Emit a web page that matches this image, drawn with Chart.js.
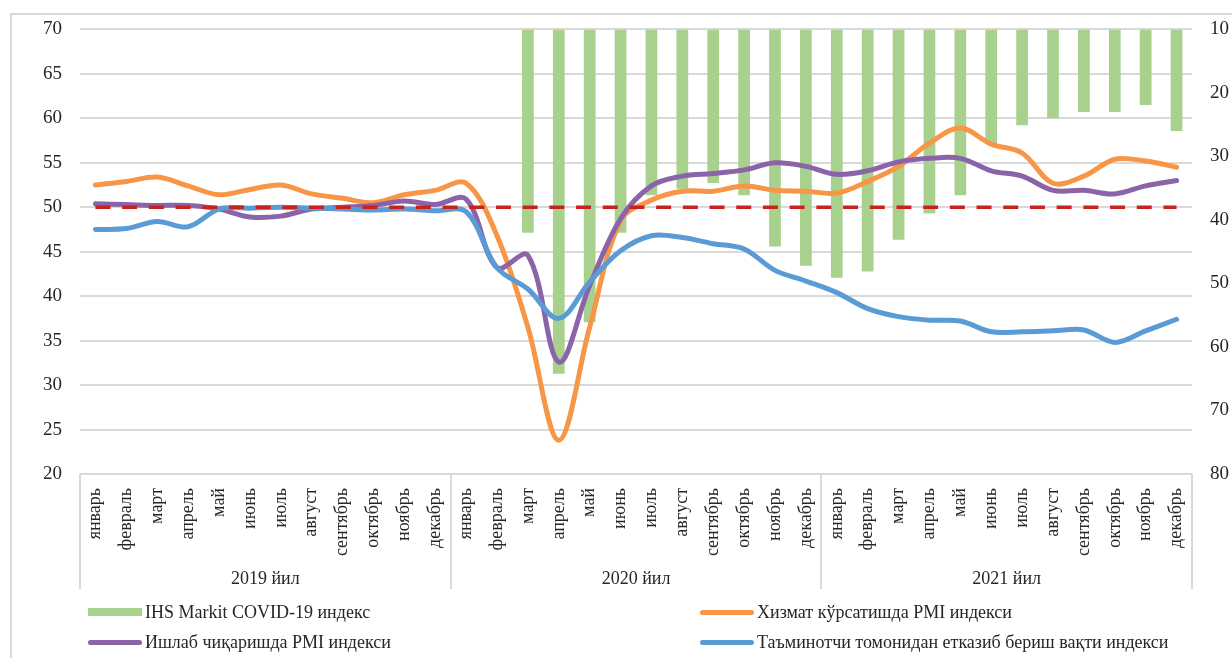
<!DOCTYPE html>
<html>
<head>
<meta charset="utf-8">
<script src="https://cdn.jsdelivr.net/npm/chart.js@4.4.1/dist/chart.umd.min.js"></script>
<style>
html,body{margin:0;padding:0;background:#fff;}
#wrap{position:relative;width:1232px;height:658px;overflow:hidden;background:#fff;}
#frame{position:absolute;left:10px;top:13px;width:1300px;height:700px;border-top:2px solid #D9D9D9;border-left:2px solid #D9D9D9;}
canvas{position:absolute;left:0;top:0;}
.lg{position:absolute;height:22px;line-height:22px;font-family:"Liberation Serif";font-size:18px;color:#262626;white-space:nowrap;display:flex;align-items:center;}
.mk{display:inline-block;width:54px;margin-right:3px;}
</style>
</head>
<body>
<div id="wrap">
  <div id="frame"></div>
  <canvas id="c" width="1232" height="658"></canvas>
  <div id="legend"></div>
</div>
<script>
// ---- categories / tick labels ----
const months = ['январь','февраль','март','апрель','май','июнь','июль','август','сентябрь','октябрь','ноябрь','декабрь'];
const years = ['2019 йил','2020 йил','2021 йил'];
const labels = [].concat(months, months, months);

// ---- series ----
// IHS Markit COVID-19 index (right axis, reversed)
const covidIndex = [
  null,null,null,null,null,null,null,null,null,null,null,null,
  null,null,42.0,64.2,56.1,42.0,36.1,35.1,34.2,36.1,44.2,47.2,
  49.1,48.1,43.1,39.0,36.1,28.0,25.1,24.0,23.0,23.0,21.9,26.0
];
// Services PMI
const servicesPMI = [
  52.5,52.9,53.4,52.4,51.4,52.0,52.5,51.5,51.0,50.5,51.4,51.9,
  52.7,46.8,36.5,23.8,36.5,48.5,50.8,51.8,51.8,52.4,51.9,51.8,
  51.6,52.9,54.6,57.2,58.9,57.1,56.1,52.7,53.5,55.4,55.2,54.5
];
// Manufacturing PMI
const manufacturingPMI = [
  50.4,50.3,50.2,50.2,49.8,48.9,49.0,49.8,50.0,50.2,50.7,50.3,
  50.9,43.2,44.6,32.6,41.2,48.7,52.4,53.5,53.8,54.2,55.0,54.6,
  53.7,54.1,55.1,55.5,55.5,54.1,53.5,51.9,51.9,51.5,52.4,53.0
];
// Suppliers' delivery times index
const deliveryTimes = [
  47.5,47.6,48.4,47.8,49.8,49.9,50.0,49.9,49.8,49.7,49.8,49.6,
  49.5,43.2,40.8,37.5,41.6,45.1,46.8,46.6,45.9,45.3,42.9,41.7,
  40.4,38.6,37.7,37.3,37.2,36.0,36.0,36.1,36.2,34.8,36.1,37.4
];
// 50 threshold line
const threshold = [
  50,50,50,50,50,50,50,50,50,50,50,50,
  50,50,50,50,50,50,50,50,50,50,50,50,
  50,50,50,50,50,50,50,50,50,50,50,50
];
const leftTicks = {min:20, max:70, step:5};
const rightTicks = {min:10, max:80, step:10};

const seriesNames = ['IHS Markit COVID-19 индекс','Хизмат кўрсатишда PMI индекси','Ишлаб чиқаришда PMI индекси','Таъминотчи томонидан етказиб бериш вақти индекси'];

const FONT = 'Liberation Serif';
const TXT = '#262626';
const GRID = '#D9D9D9';

const groupLines = {
  id:'groupLines',
  afterDraw(chart){
    const x = chart.scales.x, x2 = chart.scales.x2, ctx = chart.ctx;
    ctx.save();
    ctx.strokeStyle = GRID; ctx.lineWidth = 2;
    for (let k = 0; k <= years.length; k++) {
      const px = Math.round(x.getPixelForValue(k * months.length - 0.5));
      ctx.beginPath(); ctx.moveTo(px, x.top); ctx.lineTo(px, x2.bottom - 4); ctx.stroke();
    }
    ctx.restore();
  }
};

const lineDs = (label, data, color, order) => ({
  type:'line', label, data, borderColor:color, backgroundColor:color,
  borderWidth:5, pointRadius:0, tension:0.35, fill:false,
  borderCapStyle:'round', borderJoinStyle:'round',
  xAxisID:'x', yAxisID:'y', order
});

const chart = new Chart(document.getElementById('c'), {
  type:'bar',
  data:{
    labels,
    datasets:[
      {type:'bar', label:seriesNames[0], data:covidIndex, backgroundColor:'#A9D18E',
       barPercentage:0.38, categoryPercentage:1, base:rightTicks.min, xAxisID:'x', yAxisID:'y2', order:5},
      lineDs(seriesNames[1], servicesPMI, '#F79646', 4),
      lineDs(seriesNames[2], manufacturingPMI, '#8B63A8', 3),
      lineDs(seriesNames[3], deliveryTimes, '#5B9BD5', 2),
      {type:'line', label:'50', data:threshold, borderColor:'#C9211E', borderWidth:3.5,
       borderDash:[15,11.7], pointRadius:0, tension:0, fill:false, xAxisID:'x', yAxisID:'y', order:1}
    ]
  },
  options:{
    responsive:false, animation:false,
    layout:{padding:{left:0,right:0,top:28,bottom:65}},
    plugins:{legend:{display:false}, tooltip:{enabled:false}},
    scales:{
      x:{type:'category', position:'bottom', offset:true, weight:0,
         grid:{display:false, drawTicks:false}, border:{display:false},
         ticks:{autoSkip:false, maxRotation:90, minRotation:90, padding:14,
                font:{family:FONT, size:18}, color:TXT},
         afterFit(s){ s.height = 89; }},
      x2:{type:'category', labels:years, position:'bottom', offset:true, weight:1,
         grid:{display:false, drawTicks:false}, border:{display:false},
         ticks:{padding:5, font:{family:FONT, size:18}, color:TXT},
         afterFit(s){ s.height = 30; }},
      y:{position:'left', min:leftTicks.min, max:leftTicks.max,
         ticks:{stepSize:leftTicks.step, padding:18, font:{family:FONT, size:19}, color:TXT},
         grid:{color:GRID, lineWidth:2, drawTicks:false}, border:{display:false},
         afterFit(s){ s.width = 80; }},
      y2:{position:'right', reverse:true, min:rightTicks.min, max:rightTicks.max,
         ticks:{stepSize:rightTicks.step, padding:18, font:{family:FONT, size:19}, color:TXT},
         grid:{display:false, drawTicks:false}, border:{display:false},
         afterFit(s){ s.width = 40; }}
    }
  },
  plugins:[groupLines]
});

// ---- HTML legend (2 x 2) built from the datasets ----
const legendPos = [[88,612],[700,612],[88,642],[700,642]];
const lg = document.getElementById('legend');
[0,1,2,3].forEach(i => {
  const ds = chart.data.datasets[i];
  const d = document.createElement('div');
  d.className = 'lg';
  d.style.left = legendPos[i][0] + 'px';
  d.style.top = (legendPos[i][1] - 11) + 'px';
  const m = document.createElement('span');
  m.className = 'mk';
  if (ds.type === 'bar') { m.style.height = '8px'; m.style.background = ds.backgroundColor; }
  else { m.style.height = '5px'; m.style.borderRadius = '3px'; m.style.background = ds.borderColor; }
  d.appendChild(m);
  d.appendChild(document.createTextNode(ds.label));
  lg.appendChild(d);
});
</script>
</body>
</html>
